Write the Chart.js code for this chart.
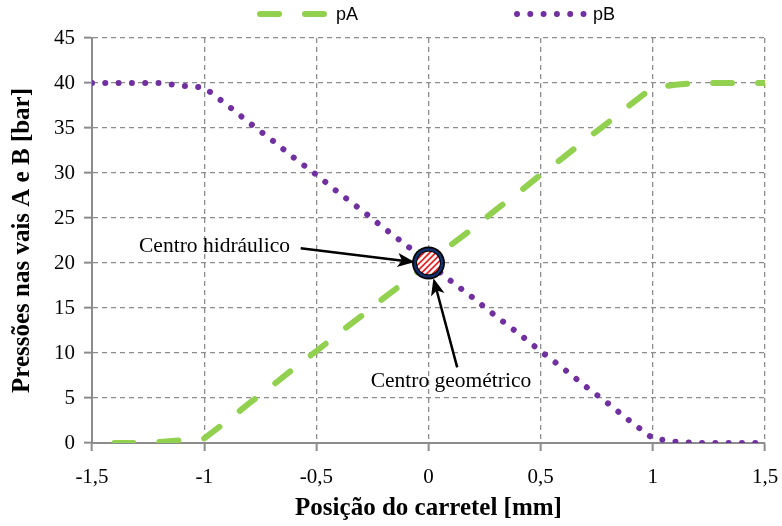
<!DOCTYPE html>
<html>
<head>
<meta charset="utf-8">
<script src="https://cdn.jsdelivr.net/npm/chart.js@4/dist/chart.umd.min.js"></script>
<style>
  html, body { margin: 0; padding: 0; background: #fff; }
  #wrap { width: 782px; height: 526px; }
</style>
</head>
<body>
<div id="wrap"><canvas id="grafico" width="782" height="526"></canvas></div>
<script>
// posição do carretel [mm]
const posicao = [-1.5, -1.4, -1.3, -1.2, -1.1, -1.0, -0.9, -0.8, -0.7, -0.6, -0.5, -0.4, -0.3, -0.2, -0.1,
                 0, 0.1, 0.2, 0.3, 0.4, 0.5, 0.6, 0.7, 0.8, 0.9, 1.0, 1.1, 1.2, 1.3, 1.4, 1.5];
// pressões nas vias [bar]
const pA = [null, 0, 0, 0.1, 0.3, 0.5, 2.4, 4.4, 6.3, 8.3, 10.2, 12.2, 14.1, 16.1, 18.0,
            20.0, 22.0, 23.9, 25.9, 27.8, 29.8, 31.7, 33.7, 35.6, 37.6, 39.5, 39.8, 40, 40, 40, 40];
const pB = [40, 40, 40, 40, 39.7, 39.5, 37.6, 35.6, 33.7, 31.7, 29.8, 27.8, 25.9, 23.9, 22.0,
            20.0, 18.0, 16.1, 14.1, 12.2, 10.2, 8.3, 6.3, 4.4, 2.4, 0.5, 0.15, 0, 0, 0, 0];
const xTicks = ['-1,5', '-1', '-0,5', '0', '0,5', '1', '1,5'];
const yTicks = [0, 5, 10, 15, 20, 25, 30, 35, 40, 45];
const centro = { x: 0, y: 20 };

const verde = '#92d050';
const roxo = '#7030a0';
const cinza = '#8c8c8c';
const serif = "'Liberation Serif', 'Times New Roman', serif";

function pontos(ys) {
    return posicao.map((x, i) => ({ x: x, y: ys[i] }));
}

// legenda, marcador do centro e setas com os textos
const extras = {
    id: 'extras',
    afterDatasetsDraw(chart) {
        const ctx = chart.ctx;
        const xs = chart.scales.x;
        const ys = chart.scales.y;

        // legenda
        const itens = [
            { nome: 'pA', cor: verde, largura: 6, dash: [19, 26], x0: 257 },
            { nome: 'pB', cor: roxo, largura: 6, dash: [0.001, 13.3], x0: 514 }
        ];
        itens.forEach(it => {
            ctx.save();
            ctx.strokeStyle = it.cor;
            ctx.lineWidth = it.largura;
            ctx.lineCap = 'round';
            ctx.setLineDash(it.dash);
            ctx.beginPath();
            ctx.moveTo(it.x0 + 3, 14);
            ctx.lineTo(it.x0 + 70, 14);
            ctx.stroke();
            ctx.setLineDash([]);
            ctx.fillStyle = '#000';
            ctx.font = "18px 'Liberation Sans', Arial, sans-serif";
            ctx.textBaseline = 'middle';
            ctx.fillText(it.nome, it.x0 + 79, 15);
            ctx.restore();
        });

        // marcador no ponto (0, 20)
        const cx = xs.getPixelForValue(centro.x);
        const cy = ys.getPixelForValue(centro.y);
        ctx.save();
        ctx.beginPath(); ctx.arc(cx, cy, 16.5, 0, Math.PI * 2); ctx.fillStyle = '#000'; ctx.fill();
        ctx.beginPath(); ctx.arc(cx, cy, 14.8, 0, Math.PI * 2); ctx.fillStyle = '#12306b'; ctx.fill();
        ctx.beginPath(); ctx.arc(cx, cy, 12.3, 0, Math.PI * 2); ctx.fillStyle = '#000'; ctx.fill();
        ctx.beginPath(); ctx.arc(cx, cy, 11.3, 0, Math.PI * 2); ctx.fillStyle = '#e8262a'; ctx.fill();
        ctx.clip();
        ctx.strokeStyle = '#fff';
        ctx.lineWidth = 2.4;
        for (let k = -30; k <= 30; k += 6) {
            ctx.beginPath();
            ctx.moveTo(cx + k - 15, cy + 15);
            ctx.lineTo(cx + k + 15, cy - 15);
            ctx.stroke();
        }
        ctx.restore();

        // setas e textos
        const notas = [
            { texto: 'Centro hidráulico', tx: -0.617, ty: 21.8, alinha: 'right',
              de: [-0.57, 21.65], para: [-0.062, 20.1] },
            { texto: 'Centro geométrico', tx: 0.1, ty: 6.8, alinha: 'center',
              de: [0.128, 8.4], para: [0.022, 18.3] }
        ];
        notas.forEach(n => {
            const x1 = xs.getPixelForValue(n.de[0]), y1 = ys.getPixelForValue(n.de[1]);
            const x2 = xs.getPixelForValue(n.para[0]), y2 = ys.getPixelForValue(n.para[1]);
            const ang = Math.atan2(y2 - y1, x2 - x1);
            const cab = 17, meia = 7;
            ctx.save();
            ctx.strokeStyle = '#000';
            ctx.fillStyle = '#000';
            ctx.lineWidth = 2.5;
            ctx.beginPath();
            ctx.moveTo(x1, y1);
            ctx.lineTo(x2 - Math.cos(ang) * cab * 0.7, y2 - Math.sin(ang) * cab * 0.7);
            ctx.stroke();
            ctx.beginPath();
            ctx.moveTo(x2, y2);
            ctx.lineTo(x2 - Math.cos(ang) * cab + Math.sin(ang) * meia, y2 - Math.sin(ang) * cab - Math.cos(ang) * meia);
            ctx.lineTo(x2 - Math.cos(ang) * cab * 0.75, y2 - Math.sin(ang) * cab * 0.75);
            ctx.lineTo(x2 - Math.cos(ang) * cab - Math.sin(ang) * meia, y2 - Math.sin(ang) * cab + Math.cos(ang) * meia);
            ctx.closePath();
            ctx.fill();
            ctx.font = '21.5px ' + serif;
            ctx.textAlign = n.alinha;
            ctx.textBaseline = 'middle';
            ctx.fillText(n.texto, xs.getPixelForValue(n.tx), ys.getPixelForValue(n.ty));
            ctx.restore();
        });
    }
};

const ctx = document.getElementById('grafico').getContext('2d');
new Chart(ctx, {
    type: 'line',
    data: {
        datasets: [
            {
                label: 'pA',
                data: pontos(pA),
                borderColor: verde,
                backgroundColor: verde,
                borderWidth: 6,
                borderDash: [19, 26],
                borderCapStyle: 'round',
                pointRadius: 0,
                tension: 0,
                spanGaps: false
            },
            {
                label: 'pB',
                data: pontos(pB),
                borderColor: roxo,
                backgroundColor: roxo,
                borderWidth: 6,
                borderDash: [0.001, 13.3],
                borderCapStyle: 'round',
                pointRadius: 0,
                tension: 0
            }
        ]
    },
    options: {
        responsive: false,
        animation: false,
        layout: { padding: { top: 38, right: 17, left: 0, bottom: 0 } },
        plugins: {
            legend: { display: false },
            tooltip: { enabled: false }
        },
        scales: {
            x: {
                type: 'linear',
                min: -1.5,
                max: 1.5,
                afterFit: s => { s.height = 83; s.paddingRight = 17; },
                afterBuildTicks: s => { s.ticks = xTicks.map((t, i) => ({ value: -1.5 + i * 0.5 })); },
                ticks: {
                    color: '#000',
                    font: { family: serif, size: 21 },
                    padding: 14,
                    maxRotation: 0,
                    callback: (v, i) => xTicks[i]
                },
                grid: {
                    color: cinza,
                    lineWidth: 1.3,
                    tickBorderDash: [],
                    tickColor: cinza,
                    tickLength: 8,
                    tickWidth: 2
                },
                border: { color: cinza, width: 2, dash: [5, 4] },
                title: {
                    display: true,
                    text: 'Posição do carretel [mm]',
                    color: '#000',
                    font: { family: serif, size: 25, weight: 'bold' },
                    padding: { top: 0, bottom: 2 }
                }
            },
            y: {
                min: 0,
                max: 45,
                afterFit: s => { s.width = 92; },
                afterBuildTicks: s => { s.ticks = yTicks.map(v => ({ value: v })); },
                ticks: {
                    color: '#000',
                    font: { family: serif, size: 21 },
                    padding: 9
                },
                grid: {
                    color: cinza,
                    lineWidth: 1.3,
                    tickBorderDash: [],
                    tickColor: cinza,
                    tickLength: 8,
                    tickWidth: 2
                },
                border: { color: cinza, width: 2, dash: [5, 4] },
                title: {
                    display: true,
                    text: 'Pressões nas vais A e B [bar]',
                    color: '#000',
                    font: { family: serif, size: 25, weight: 'bold' },
                    padding: { top: 8, bottom: 0 }
                }
            }
        }
    },
    plugins: [extras]
});
</script>
</body>
</html>
